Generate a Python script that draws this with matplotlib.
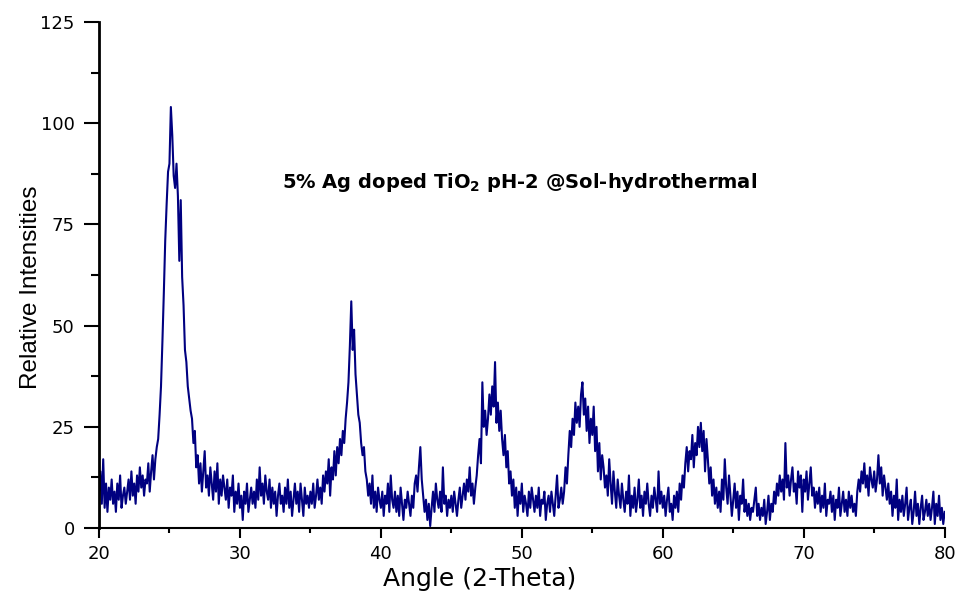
import numpy as np
import matplotlib
matplotlib.use('Agg')
import matplotlib.pyplot as plt
from matplotlib.ticker import MultipleLocator

plt.rcParams['font.family'] = ['DejaVu Sans']

# XRD 패턴: 20~80도, 0.1도 간격 (한 줄 = 1도)
angle_start = 20.0
angle_step = 0.1
intensity = [
    9, 14, 6, 17, 5, 11, 4, 10, 7, 12,       # 20
    6, 9, 4, 11, 7, 13, 5, 8, 10, 6,         # 21
    9, 12, 7, 14, 8, 11, 6, 13, 9, 15,       # 22
    10, 13, 8, 12, 11, 16, 9, 14, 18, 12,    # 23
    17, 20, 22, 28, 35, 46, 58, 71, 80, 88,  # 24
    90, 104, 97, 87, 84, 90, 82, 66, 81, 62, # 25
    55, 44, 41, 35, 32, 29, 27, 21, 24, 15,  # 26
    18, 11, 16, 9, 14, 19, 10, 13, 8, 15,    # 27
    11, 7, 14, 9, 16, 6, 12, 8, 13, 10,      # 28
    7, 12, 5, 10, 8, 13, 4, 9, 6, 11,        # 29
    5, 8, 2, 9, 6, 11, 4, 7, 10, 6,          # 30
    9, 5, 12, 7, 15, 8, 11, 6, 13, 9,        # 31
    7, 12, 5, 10, 6, 9, 3, 8, 11, 6,         # 32
    8, 4, 10, 6, 12, 5, 9, 3, 7, 11,         # 33
    6, 9, 4, 11, 7, 3, 10, 6, 8, 5,          # 34
    9, 6, 11, 5, 8, 12, 7, 10, 6, 13,        # 35
    9, 14, 11, 17, 8, 15, 12, 19, 13, 20,    # 36
    16, 22, 18, 24, 21, 27, 31, 36, 45, 56,  # 37
    44, 49, 38, 33, 28, 26, 21, 18, 20, 14,  # 38
    12, 8, 11, 6, 13, 5, 9, 4, 10, 7,        # 39
    5, 9, 3, 8, 6, 11, 4, 13, 7, 5,          # 40
    9, 4, 8, 3, 10, 6, 2, 7, 5, 9,           # 41
    6, 3, 8, 5, 11, 13, 9, 15, 20, 12,       # 42
    8, 4, 7, 2, 6, 0.5, 5, 9, 4, 11,         # 43
    7, 5, 9, 4, 15, 6, 8, 3, 7, 5,           # 44
    8, 4, 9, 6, 3, 7, 10, 5, 8, 11,          # 45
    7, 12, 9, 15, 8, 11, 6, 10, 13, 18,      # 46
    22, 16, 36, 25, 29, 23, 27, 33, 28, 35,  # 47
    30, 41, 26, 31, 24, 29, 22, 18, 23, 15,  # 48
    19, 11, 14, 8, 12, 5, 10, 3, 9, 6,       # 49
    11, 4, 8, 6, 3, 9, 5, 10, 7, 4,          # 50
    8, 5, 10, 3, 7, 6, 9, 2, 6, 8,           # 51
    4, 9, 6, 3, 8, 13, 5, 7, 10, 6,          # 52
    9, 15, 11, 18, 24, 20, 27, 23, 31, 26,   # 53
    30, 25, 33, 36, 28, 32, 24, 30, 21, 27,  # 54
    23, 30, 19, 25, 14, 21, 12, 18, 15, 10,  # 55
    13, 8, 17, 11, 6, 14, 9, 5, 12, 8,       # 56
    5, 11, 7, 4, 9, 6, 13, 3, 8, 5,          # 57
    10, 4, 7, 12, 5, 8, 3, 9, 6, 11,         # 58
    6, 3, 8, 5, 10, 7, 4, 14, 6, 9,          # 59
    5, 8, 3, 7, 10, 4, 6, 2, 8, 5,           # 60
    9, 4, 11, 7, 13, 10, 16, 20, 14, 19,     # 61
    17, 23, 15, 21, 18, 25, 20, 26, 19, 24,  # 62
    14, 22, 17, 11, 15, 8, 12, 6, 10, 5,     # 63
    9, 4, 12, 7, 17, 10, 6, 13, 8, 3,        # 64
    7, 11, 5, 9, 2, 8, 6, 12, 4, 7,          # 65
    3, 6, 2, 5, 4, 7, 10, 3, 6, 2,           # 66
    5, 3, 7, 1, 4, 8, 2, 6, 4, 9,            # 67
    6, 11, 8, 13, 9, 12, 7, 21, 10, 13,      # 68
    8, 12, 15, 9, 11, 6, 14, 10, 13, 4,      # 69
    12, 9, 14, 7, 11, 15, 8, 10, 5, 9,       # 70
    6, 10, 4, 8, 5, 11, 3, 7, 6, 9,          # 71
    4, 8, 2, 7, 5, 10, 3, 6, 9, 4,           # 72
    7, 3, 9, 5, 8, 4, 6, 3, 9, 12,           # 73
    9, 14, 11, 16, 10, 13, 8, 15, 12, 10,    # 74
    14, 9, 12, 18, 11, 15, 8, 13, 10, 7,     # 75
    11, 6, 9, 3, 8, 5, 12, 2, 7, 4,          # 76
    8, 3, 6, 10, 2, 5, 7, 1, 4, 9,           # 77
    3, 6, 1, 5, 8, 2, 4, 7, 3, 6,            # 78
    2, 5, 9, 1, 6, 3, 8, 2, 5, 1,            # 79
    4,                                       # 80
]
angle = angle_start + angle_step * np.arange(len(intensity))

x_ticks = [20, 30, 40, 50, 60, 70, 80]
y_ticks = [0, 25, 50, 75, 100, 125]

fig = plt.figure(figsize=(9.61, 5.94), dpi=100)
ax = fig.add_axes([0.103, 0.111, 0.88, 0.852])

ax.plot(angle, intensity, color='#000080', linewidth=1.5)

ax.set_xlim(20, 80)
ax.set_ylim(0, 125)
ax.set_xticks(x_ticks)
ax.set_yticks(y_ticks)
ax.xaxis.set_minor_locator(MultipleLocator(5))
ax.yaxis.set_minor_locator(MultipleLocator(12.5))

ax.spines['top'].set_visible(False)
ax.spines['right'].set_visible(False)
ax.spines['left'].set_linewidth(2)
ax.spines['bottom'].set_linewidth(1.5)

# 눈금 설정 (원본은 가로로 늘어난 그림이라 y축 눈금이 더 김)
ax.tick_params(axis='x', which='major', direction='out', length=7.5, width=1.5, labelsize=13, pad=5)
ax.tick_params(axis='x', which='minor', direction='out', length=3.8, width=1.5)
ax.tick_params(axis='y', which='major', direction='out', length=10.5, width=1.5, labelsize=13, pad=7)
ax.tick_params(axis='y', which='minor', direction='out', length=5.5, width=1.5)

ax.set_xlabel('Angle (2-Theta)', fontsize=18)
ax.set_ylabel('Relative Intensities', fontsize=17.5, family=['Liberation Sans', 'DejaVu Sans'])
ax.xaxis.set_label_coords(0.45, -0.076)
ax.yaxis.set_label_coords(-0.067, 0.476)

ax.text(0.216, 0.682, r'5% Ag doped TiO$_\mathbf{2}$ pH-2 @Sol-hydrothermal',
        transform=ax.transAxes, fontsize=14, fontweight='bold', va='center')

fig.savefig('out.png', dpi=100)
